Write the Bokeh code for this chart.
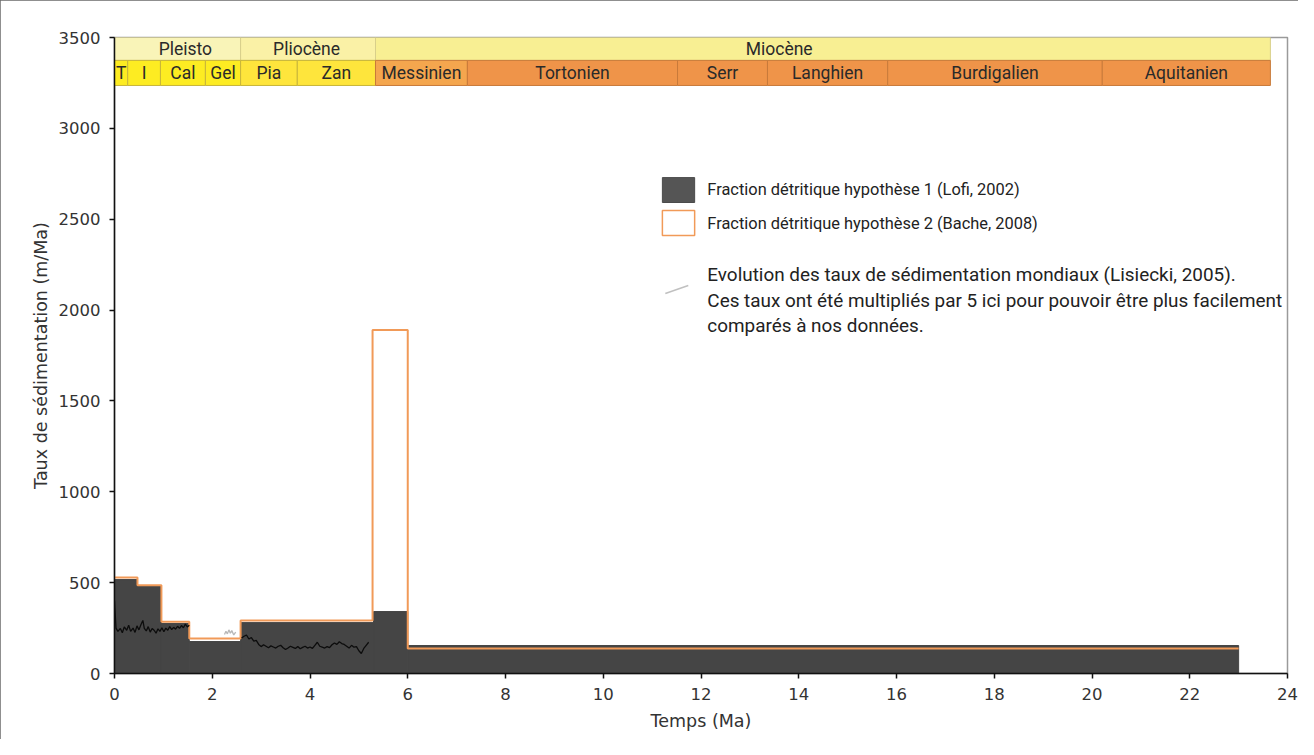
import numpy as np
from bokeh.plotting import figure
from bokeh.models import Range1d, Label, ColumnDataSource, FixedTicker
from bokeh.core.properties import value
from bokeh.embed import file_html
from bokeh.resources import INLINE

# ---------------- data ----------------
# Hypothesis 1 (Lofi, 2002) - filled dark bars
h1_edges = [0.0, 0.47, 0.96, 1.53, 2.58, 5.30, 6.0, 23.0]
h1_values = [517, 479, 275, 176, 280, 341, 154]

# Hypothesis 2 (Bache, 2008) - orange outline
h2_edges = [0.0, 0.47, 0.96, 1.53, 2.58, 5.28, 6.0, 23.0]
h2_values = [528, 485, 285, 193, 292, 1890, 137]

# Lisiecki (2005) x5 - global sedimentation rates
lis_age_a = [0.00, 0.03, 0.07, 0.12, 0.16, 0.20, 0.25, 0.29, 0.33, 0.38, 0.42, 0.46,
             0.50, 0.54, 0.58, 0.61, 0.65, 0.69, 0.73, 0.77, 0.81, 0.85, 0.89, 0.93,
             0.97, 1.01, 1.05, 1.09, 1.13, 1.17, 1.21, 1.25, 1.29, 1.33, 1.37, 1.41,
             1.45, 1.49, 1.53]
lis_val_a = [400, 250, 232, 248, 224, 256, 238, 266, 232, 250, 226, 262,
             240, 268, 292, 248, 234, 258, 228, 248, 238, 222, 246, 232,
             252, 230, 250, 238, 258, 242, 254, 244, 260, 248, 264, 252,
             272, 256, 266]
lis_age_b = [2.25, 2.28, 2.31, 2.34, 2.37, 2.40, 2.44, 2.48]
lis_val_b = [215, 232, 218, 240, 222, 236, 212, 228]
lis_age_c = [2.60, 2.65, 2.70, 2.75, 2.80, 2.85, 2.90, 2.95, 3.00, 3.05, 3.10, 3.15,
             3.20, 3.25, 3.30, 3.35, 3.40, 3.45, 3.50, 3.55, 3.60, 3.65, 3.70, 3.75,
             3.80, 3.85, 3.90, 3.95, 4.00, 4.05, 4.10, 4.15, 4.20, 4.25, 4.30, 4.35,
             4.40, 4.45, 4.50, 4.55, 4.60, 4.65, 4.70, 4.75, 4.80, 4.85, 4.90, 4.95,
             5.00, 5.05, 5.10, 5.15, 5.20]
lis_val_c = [195, 205, 212, 190, 198, 178, 182, 160, 148, 158, 150, 142,
             152, 146, 140, 150, 155, 142, 132, 140, 150, 144, 138, 148,
             136, 144, 150, 140, 146, 138, 155, 172, 150, 145, 140, 148,
             142, 158, 168, 160, 175, 165, 160, 150, 140, 155, 145, 148,
             125, 110, 138, 155, 172]

# Chronostratigraphic band
epoch_names = ["Pleisto", "Pliocène", "Miocène"]
epoch_edges = [0.0, 2.58, 5.34, 23.65]
epoch_label_x = [1.45, 3.93, 13.6]
epoch_colors = ["#F9F4B8", "#FAF1A6", "#F8EF93"]

stage_names = ["T", "I", "Cal", "Gel", "Pia", "Zan", "Messinien", "Tortonien",
               "Serr", "Langhien", "Burdigalien", "Aquitanien"]
stage_edges = [0.0, 0.27, 0.94, 1.86, 2.58, 3.74, 5.34, 7.22, 11.52, 13.36,
               15.82, 20.21, 23.65]
stage_colors = ["#FDEC22", "#FDEC22", "#FDEC22", "#FDEC22", "#FEE53C", "#FEE53C",
                "#F4A64E", "#EF9449", "#EF9449", "#EF9449", "#EF9449", "#EF9449"]
stage_lines = ["#C8B53A"] * 6 + ["#C87A3A"] * 6

band_y = [3236, 3374, 3500]

x_ticks = list(range(0, 25, 2))
y_ticks = list(range(0, 3501, 500))

legend_texts = ["Fraction détritique hypothèse 1 (Lofi, 2002)",
                "Fraction détritique hypothèse 2 (Bache, 2008)",
                "Evolution des taux de sédimentation mondiaux (Lisiecki, 2005).",
                "Ces taux ont été multipliés par 5 ici pour pouvoir être plus facilement",
                "comparés à nos données."]
legend_sizes = ["16.4px", "16.4px", "18.9px", "18.9px", "18.9px"]

# ---------------- figure ----------------
DARK = "#454545"
ORANGE = "#F19A58"
TXT_FONT = "Roboto"
AX_FONT = "DejaVu Sans"

p = figure(width=1298, height=739, x_range=Range1d(0, 24), y_range=Range1d(0, 3500),
           output_backend="svg", toolbar_location=None,
           min_border_left=114, min_border_right=11, min_border_top=37,
           min_border_bottom=66)
p.styles = {"outline": "1px solid #6a6a6a", "outline-offset": "-1px"}
p.xgrid.visible = False
p.ygrid.visible = False
p.outline_line_color = "#9a9a9a"
p.outline_line_width = 1.5
p.background_fill_color = "white"
p.border_fill_color = "white"

for ax in (p.xaxis[0], p.yaxis[0]):
    ax.axis_line_color = "#111111"
    ax.axis_line_width = 1.5
    ax.major_tick_line_color = "#111111"
    ax.major_tick_line_width = 1.5
    ax.major_tick_out = 5
    ax.major_tick_in = 0
    ax.minor_tick_out = 0
    ax.minor_tick_in = 0
    ax.major_label_text_font = AX_FONT
    ax.major_label_text_font_size = "16.5px"
    ax.major_label_text_color = "#333333"
    ax.major_label_standoff = 9
    ax.axis_label_text_font = AX_FONT
    ax.axis_label_text_font_size = "17.5px"
    ax.axis_label_text_font_style = "normal"
    ax.axis_label_text_color = "#333333"

p.xaxis.ticker = FixedTicker(ticks=x_ticks)
p.yaxis.ticker = FixedTicker(ticks=y_ticks)
p.xaxis.axis_label = "Temps (Ma)"
p.yaxis.axis_label = "Taux de sédimentation (m/Ma)"
p.xaxis.axis_label_standoff = 8
p.yaxis.axis_label_standoff = 5

# dark bars
p.quad(left=h1_edges[:-1], right=h1_edges[1:], top=h1_values, bottom=0,
       fill_color=DARK, line_color=DARK, line_width=1)

# orange step outline
sx = np.repeat(np.array(h2_edges), 2)[1:-1]
sy = np.repeat(np.array(h2_values), 2)
sx = np.concatenate([[0.0], sx])
sy = np.concatenate([[h2_values[0]], sy])
p.line(sx, sy, line_color=ORANGE, line_width=2)

# Lisiecki line
p.line(lis_age_a, lis_val_a, line_color="#0c0c0c", line_width=1.3)
p.line(lis_age_b, lis_val_b, line_color="#b8b8b8", line_width=1.3)
p.line(lis_age_c, lis_val_c, line_color="#0c0c0c", line_width=1.3)

# band: epochs
p.quad(left=epoch_edges[:-1], right=epoch_edges[1:], bottom=band_y[1], top=band_y[2],
       fill_color=epoch_colors, line_color="#D8CF8A", line_width=1)
# band: stages
p.quad(left=stage_edges[:-1], right=stage_edges[1:], bottom=band_y[0], top=band_y[1],
       fill_color=stage_colors, line_color=stage_lines, line_width=1)

ep_src = ColumnDataSource(dict(x=epoch_label_x, y=[(band_y[1] + band_y[2]) / 2] * 3,
                               t=epoch_names))
p.text(x="x", y="y", text="t", source=ep_src, text_align="center",
       text_baseline="middle", text_font=value(TXT_FONT), text_font_size="17.5px",
       text_color="#2a2a2a")
st_x = [(a + b) / 2 for a, b in zip(stage_edges[:-1], stage_edges[1:])]
st_src = ColumnDataSource(dict(x=st_x, y=[(band_y[0] + band_y[1]) / 2] * len(st_x),
                               t=stage_names))
p.text(x="x", y="y", text="t", source=st_src, text_align="center",
       text_baseline="middle", text_font=value(TXT_FONT), text_font_size="17.5px",
       text_color="#2a2a2a")

# ---------------- legend (manual) ----------------
LX0, LX1 = 11.21, 11.87
p.quad(left=[LX0], right=[LX1], top=[2729], bottom=[2592],
       fill_color="#555555", line_color="#4a4a4a", line_width=1)
p.quad(left=[LX0], right=[LX1], top=[2548], bottom=[2410],
       fill_color="white", line_color=ORANGE, line_width=1.5)
p.segment(x0=[11.27], y0=[2091], x1=[11.74], y1=[2135], line_color="#c0c0c0",
          line_width=1.5)
for t, yy, fs in zip(legend_texts, [2663, 2476, 2196, 2053, 1915], legend_sizes):
    p.add_layout(Label(x=12.13, y=yy, text=t, text_font=TXT_FONT,
                       text_font_size=fs, text_color="#222222",
                       text_baseline="middle", text_align="left"))

open("out.html", "w").write(file_html(p, INLINE))
